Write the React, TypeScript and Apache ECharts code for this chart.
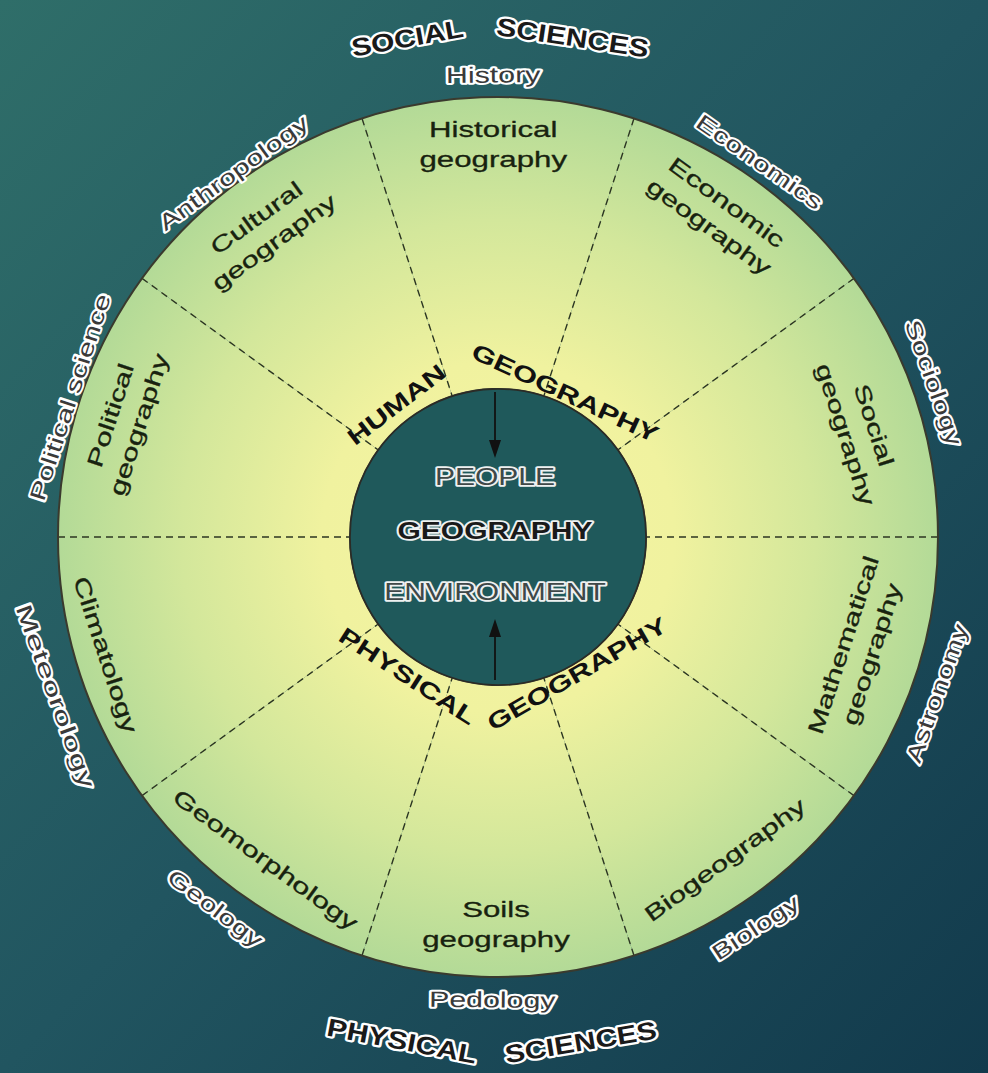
import React, { useEffect, useRef } from "react";
import * as echarts from "echarts";

// ---------- data ----------
const subfields = [
  "Historical\ngeography",
  "Economic\ngeography",
  "Social\ngeography",
  "Mathematical\ngeography",
  "Biogeography",
  "Soils\ngeography",
  "Geomorphology",
  "Climatology",
  "Political\ngeography",
  "Cultural\ngeography",
];
const relatedDisciplines = [
  "History",
  "Economics",
  "Sociology",
  "Astronomy",
  "Biology",
  "Pedology",
  "Geology",
  "Meteorology",
  "Political science",
  "Anthropology",
];
const sectorShares = [1, 1, 1, 1, 1, 1, 1, 1, 1, 1];
const centerWords = ["PEOPLE", "GEOGRAPHY", "ENVIRONMENT"];
const humanBranch = ["HUMAN", "GEOGRAPHY"];
const physicalBranch = ["PHYSICAL", "GEOGRAPHY"];
const socialSciences = ["SOCIAL", "SCIENCES"];
const physicalSciences = ["PHYSICAL", "SCIENCES"];

// ---------- layout ----------
const W = 988;
const H = 1073;
const CX = 498;
const CY = 537;
const R_IN = 148;
const R_OUT = 440;
const START_ANGLE = 108;
const FONT = '"Liberation Sans", Arial, Helvetica, sans-serif';

const subfieldPlace = [
  { r: 392, dA: 0.7 },
  { r: 390, dA: 1.7 },
  { r: 377, dA: -1.5 },
  { r: 377, dA: 0.6 },
  { r: 395, dA: -0.9 },
  { r: 388, dA: -0.3 },
  { r: 398, dA: 0.2 },
  { r: 410, dA: -1.3 },
  { r: 391, dA: 0.6 },
  { r: 385, dA: 1.2 },
];
const relatedPlace = [
  { r: 462, dA: 0.6, s: 1.38 },
  { r: 457, dA: 1.1, s: 1.38 },
  { r: 462, dA: 1.5, s: 1.38 },
  { r: 466, dA: -1.6, s: 1.38 },
  { r: 468, dA: -2.6, s: 1.38 },
  { r: 463, dA: -0.7, s: 1.38 },
  { r: 467, dA: -1.3, s: 1.38 },
  { r: 470, dA: 1.8, s: 1.6 },
  { r: 450, dA: -0.1, s: 1.38 },
  { r: 450, dA: 0, s: 1.38 },
];
const humanPlace = [
  { a: 127.5, r: 167 },
  { a: 65, r: 159 },
];
const physicalPlace = [
  { a: -123, r: 166 },
  { a: -60, r: 158 },
];
const socialPlace = [
  { a: 100.3, r: 507 },
  { a: 81.5, r: 505 },
];
const physSciPlace = [
  { a: -100.8, r: 513 },
  { a: -80.7, r: 512 },
];
const centerY = [477, 531, 592];

const rad = (d: number) => (d * Math.PI) / 180;
const pt = (deg: number, r: number) => [
  CX + r * Math.cos(rad(deg)),
  CY - r * Math.sin(rad(deg)),
];
const tangentRot = (deg: number) =>
  rad(Math.sin(rad(deg)) >= 0 ? deg - 90 : deg + 90);

// sector centre angles derived from the shares (clockwise from START_ANGLE)
function sectorCenters(): number[] {
  const total = sectorShares.reduce((s, v) => s + v, 0);
  const out: number[] = [];
  let acc = START_ANGLE;
  sectorShares.forEach((v) => {
    const span = (v / total) * 360;
    out.push(acc - span / 2);
    acc -= span;
  });
  return out;
}

function txt(
  text: string,
  x: number,
  y: number,
  rotation: number,
  o: {
    size: number;
    weight?: string;
    fill: string;
    stroke?: string;
    lineWidth?: number;
    scaleX?: number;
    lineHeight?: number;
  }
) {
  return {
    type: "text",
    x,
    y,
    rotation,
    scaleX: o.scaleX ?? 1,
    scaleY: 1,
    z: 30,
    silent: true,
    style: {
      text,
      fill: o.fill,
      stroke: o.stroke,
      lineWidth: o.lineWidth ?? 0,
      strokeFirst: true,
      lineJoin: "round",
      font: `${o.weight ?? "normal"} ${o.size}px ${FONT}`,
      align: "center",
      verticalAlign: "middle",
      lineHeight: o.lineHeight ?? Math.round(o.size * 1.3),
    },
  };
}

export default function App() {
  const ref = useRef<HTMLDivElement>(null);

  useEffect(() => {
    document.body.style.margin = "0";
    if (!ref.current) return;
    const chart = echarts.init(ref.current, undefined, { renderer: "svg" });
    const centers = sectorCenters();

    const graphics: any[] = [];
    // background
    graphics.push({
      type: "rect",
      z: -10,
      silent: true,
      shape: { x: 0, y: 0, width: W, height: H },
      style: {
        fill: new echarts.graphic.LinearGradient(0, 0, 1, 1, [
          { offset: 0, color: "#2f6e69" },
          { offset: 0.5, color: "#215560" },
          { offset: 1, color: "#123a4c" },
        ]),
      },
    });
    // inner circle
    graphics.push({
      type: "circle",
      z: 20,
      silent: true,
      shape: { cx: CX, cy: CY, r: R_IN },
      style: { fill: "#1f595b", stroke: "#2b2b26", lineWidth: 1.6 },
    });
    // arrows
    graphics.push({
      type: "line",
      z: 25,
      silent: true,
      shape: { x1: 495, y1: 392, x2: 495, y2: 445 },
      style: { stroke: "#111", lineWidth: 1.8 },
    });
    graphics.push({
      type: "polygon",
      z: 25,
      silent: true,
      shape: { points: [[489, 440], [501, 440], [495, 458]] },
      style: { fill: "#111" },
    });
    graphics.push({
      type: "line",
      z: 25,
      silent: true,
      shape: { x1: 495, y1: 680, x2: 495, y2: 632 },
      style: { stroke: "#111", lineWidth: 1.8 },
    });
    graphics.push({
      type: "polygon",
      z: 25,
      silent: true,
      shape: { points: [[489, 637], [501, 637], [495, 619]] },
      style: { fill: "#111" },
    });

    // sub-field labels inside the ring
    subfields.forEach((s, i) => {
      const a = centers[i] + subfieldPlace[i].dA;
      const [x, y] = pt(a, subfieldPlace[i].r);
      graphics.push(
        txt(s, x, y, tangentRot(centers[i]), {
          size: 22,
          fill: "#18220f",
          stroke: "#18220f",
          lineWidth: 0.3,
          scaleX: 1.42,
          lineHeight: 30,
        })
      );
    });

    // related disciplines outside the ring (dark text, white halo)
    relatedDisciplines.forEach((s, i) => {
      const a = centers[i] + relatedPlace[i].dA;
      const [x, y] = pt(a, relatedPlace[i].r);
      graphics.push(
        txt(s, x, y, tangentRot(a), {
          size: 22,
          fill: "#3a3a3a",
          stroke: "#ffffff",
          lineWidth: 4,
          scaleX: relatedPlace[i].s,
        })
      );
    });

    // branch headings around the inner circle
    const branch = (words: string[], place: { a: number; r: number }[]) =>
      words.forEach((w, i) => {
        const [x, y] = pt(place[i].a, place[i].r);
        graphics.push(
          txt(w, x, y, tangentRot(place[i].a), {
            size: 23,
            weight: "bold",
            fill: "#111",
            scaleX: 1.36,
          })
        );
      });
    branch(humanBranch, humanPlace);
    branch(physicalBranch, physicalPlace);

    // sciences headings
    const sci = (words: string[], place: { a: number; r: number }[]) =>
      words.forEach((w, i) => {
        const [x, y] = pt(place[i].a, place[i].r);
        graphics.push(
          txt(w, x, y, tangentRot(place[i].a), {
            size: 25,
            weight: "bold",
            fill: "#1a1a1a",
            stroke: "#ffffff",
            lineWidth: 4.5,
            scaleX: 1.2,
          })
        );
      });
    sci(socialSciences, socialPlace);
    sci(physicalSciences, physSciPlace);

    // centre words
    centerWords.forEach((w, i) => {
      graphics.push(
        txt(w, 495, centerY[i], 0, {
          size: 24,
          weight: i === 1 ? "bold" : "normal",
          fill: i === 1 ? "#1a1a1a" : "#3f4848",
          stroke: "#eef1f1",
          lineWidth: 3.5,
          scaleX: 1.25,
        })
      );
    });

    chart.setOption({
      animation: false,
      polar: { center: [CX, CY], radius: [R_IN, R_OUT] },
      angleAxis: {
        type: "category",
        data: subfields,
        startAngle: START_ANGLE,
        clockwise: true,
        boundaryGap: true,
        z: 5,
        axisLine: { show: true, lineStyle: { color: "#3a3a2e", width: 2 } },
        axisTick: { show: false },
        axisLabel: { show: false },
        splitLine: {
          show: true,
          lineStyle: { color: "#2c3622", width: 1.4, type: [7, 5] },
        },
      },
      radiusAxis: { show: false, type: "value", min: 0, max: 1 },
      series: [
        {
          type: "pie",
          center: [CX, CY],
          radius: [R_IN, R_OUT],
          startAngle: START_ANGLE,
          clockwise: true,
          silent: true,
          z: 2,
          label: { show: false },
          labelLine: { show: false },
          itemStyle: {
            borderWidth: 0,
            color: {
              type: "radial",
              x: CX,
              y: CY,
              r: R_OUT,
              global: true,
              colorStops: [
                { offset: 0, color: "#f6f3a2" },
                { offset: 0.4, color: "#f0f29f" },
                { offset: 0.72, color: "#d3e79b" },
                { offset: 1, color: "#b3da97" },
              ],
            },
          },
          data: subfields.map((name, i) => ({ name, value: sectorShares[i] })),
        },
      ],
      graphic: { elements: graphics },
    });

    return () => chart.dispose();
  }, []);

  return (
    <>
      <style>{`svg text { paint-order: stroke fill !important; stroke-linejoin: round; }`}</style>
      <div ref={ref} style={{ width: W, height: H }} />
    </>
  );
}
